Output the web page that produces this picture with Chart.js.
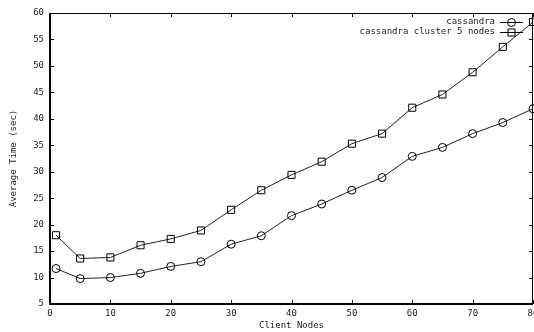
<!DOCTYPE html>
<html>
<head>
<meta charset="utf-8">
<script src="https://cdn.jsdelivr.net/npm/chart.js@4/dist/chart.umd.min.js"></script>
<style>
  html, body { margin: 0; padding: 0; background: #fff; overflow: hidden; }
  #wrap { width: 534px; height: 332px; }
</style>
</head>
<body>
<div id="wrap"><canvas id="plot" width="534" height="332"></canvas></div>
<script>
// Client node counts along the x axis
const clientNodes = [1, 5, 10, 15, 20, 25, 30, 35, 40, 45, 50, 55, 60, 65, 70, 75, 80];
// Average time (sec)
const singleNode = [11.7, 9.8, 10.0, 10.8, 12.1, 13.0, 16.3, 17.9, 21.7, 23.9, 26.5, 28.9, 32.9, 34.6, 37.2, 39.3, 41.9];
const clusterNodes = [18.0, 13.6, 13.8, 16.1, 17.3, 18.9, 22.8, 26.5, 29.4, 31.9, 35.3, 37.2, 42.1, 44.6, 48.8, 53.6, 58.3];
const seriesNames = ['cassandra', 'cassandra cluster 5 nodes'];

const FONT = { family: '"DejaVu Sans Mono", monospace', size: 9 };
const INK = '#222';

// pair x with y for the linear x scale
function toPoints(ys) {
    return clientNodes.map((x, i) => ({ x: x, y: ys[i] }));
}

// gnuplot style frame with inward ticks on all four sides, plus the legend
const gnuFrame = {
    id: 'gnuFrame',
    afterDatasetsDraw(chart) {
        const ctx = chart.ctx;
        const a = chart.chartArea;
        const xs = chart.scales.x, ys = chart.scales.y;
        const L = Math.round(a.left), R = Math.round(a.right);
        const T = Math.round(a.top), B = Math.round(a.bottom);
        ctx.save();
        ctx.strokeStyle = '#000';

        // frame: heavier on the left and bottom like the reference
        ctx.lineWidth = 2;
        ctx.beginPath();
        ctx.moveTo(L, T); ctx.lineTo(L, B); ctx.lineTo(R, B);
        ctx.stroke();
        ctx.lineWidth = 1;
        ctx.beginPath();
        ctx.moveTo(L, T + 0.5); ctx.lineTo(R - 0.5, T + 0.5); ctx.lineTo(R - 0.5, B);
        ctx.stroke();

        ctx.beginPath();
        xs.ticks.forEach(t => {
            const px = Math.round(xs.getPixelForValue(t.value)) + 0.5;
            ctx.moveTo(px, B); ctx.lineTo(px, B - 4);
            ctx.moveTo(px, T); ctx.lineTo(px, T + 4);
        });
        ys.ticks.forEach(t => {
            const py = Math.round(ys.getPixelForValue(t.value)) + 0.5;
            ctx.moveTo(L, py); ctx.lineTo(L + 4, py);
            ctx.moveTo(R, py); ctx.lineTo(R - 4, py);
        });
        ctx.stroke();

        // legend in the top right corner
        ctx.font = FONT.size + 'px ' + FONT.family;
        ctx.fillStyle = INK;
        ctx.textAlign = 'right';
        ctx.textBaseline = 'middle';
        chart.data.datasets.forEach((ds, i) => {
            const y = T + 9 + i * 10;
            ctx.fillText(ds.label, R - 38, y);
            ctx.beginPath();
            ctx.moveTo(R - 33, y + 0.5); ctx.lineTo(R - 10, y + 0.5);
            ctx.stroke();
            const cx = R - 21.5;
            if (ds.pointStyle === 'circle') {
                ctx.beginPath(); ctx.arc(cx, y + 0.5, 4, 0, Math.PI * 2);
                ctx.stroke();
            } else {
                ctx.strokeRect(cx - 3.5, y - 3, 7, 7);
            }
        });
        ctx.restore();
    }
};

new Chart(document.getElementById('plot'), {
    type: 'line',
    data: {
        datasets: [{
            label: seriesNames[0],
            data: toPoints(singleNode),
            borderColor: '#222',
            borderWidth: 1,
            pointStyle: 'circle',
            pointRadius: 4,
            pointBorderColor: '#000',
            pointBackgroundColor: 'rgba(0,0,0,0)',
            pointBorderWidth: 1,
            tension: 0
        }, {
            label: seriesNames[1],
            data: toPoints(clusterNodes),
            borderColor: '#222',
            borderWidth: 1,
            pointStyle: 'rect',
            pointRadius: 5,
            pointBorderColor: '#000',
            pointBackgroundColor: 'rgba(0,0,0,0)',
            pointBorderWidth: 1,
            tension: 0
        }]
    },
    options: {
        responsive: false,
        animation: false,
        clip: false,
        layout: { autoPadding: false, padding: { top: 13, right: 1, left: 0, bottom: 0 } },
        plugins: { legend: { display: false }, tooltip: { enabled: false } },
        scales: {
            x: {
                type: 'linear',
                min: 0, max: 80,
                grid: { display: false, drawTicks: false, tickLength: 0 },
                border: { display: false },
                ticks: { stepSize: 10, color: INK, font: FONT, padding: 4, maxRotation: 0 },
                title: { display: true, text: 'Client Nodes', color: INK, font: FONT, padding: { top: 0, bottom: 1 } },
                afterFit(scale) {
                    scale.height = 28;
                    scale.paddingLeft = 0;
                    scale.paddingRight = 0;
                }
            },
            y: {
                min: 5, max: 60,
                grid: { display: false, drawTicks: false, tickLength: 0 },
                border: { display: false },
                ticks: { stepSize: 5, color: INK, font: FONT, padding: 6 },
                title: { display: true, text: 'Average Time (sec)', color: INK, font: FONT, padding: { top: 8, bottom: 0 } },
                afterFit(scale) {
                    scale.width = 50;
                    scale.paddingTop = 0;
                    scale.paddingBottom = 0;
                }
            }
        }
    },
    plugins: [gnuFrame]
});
</script>
</body>
</html>
